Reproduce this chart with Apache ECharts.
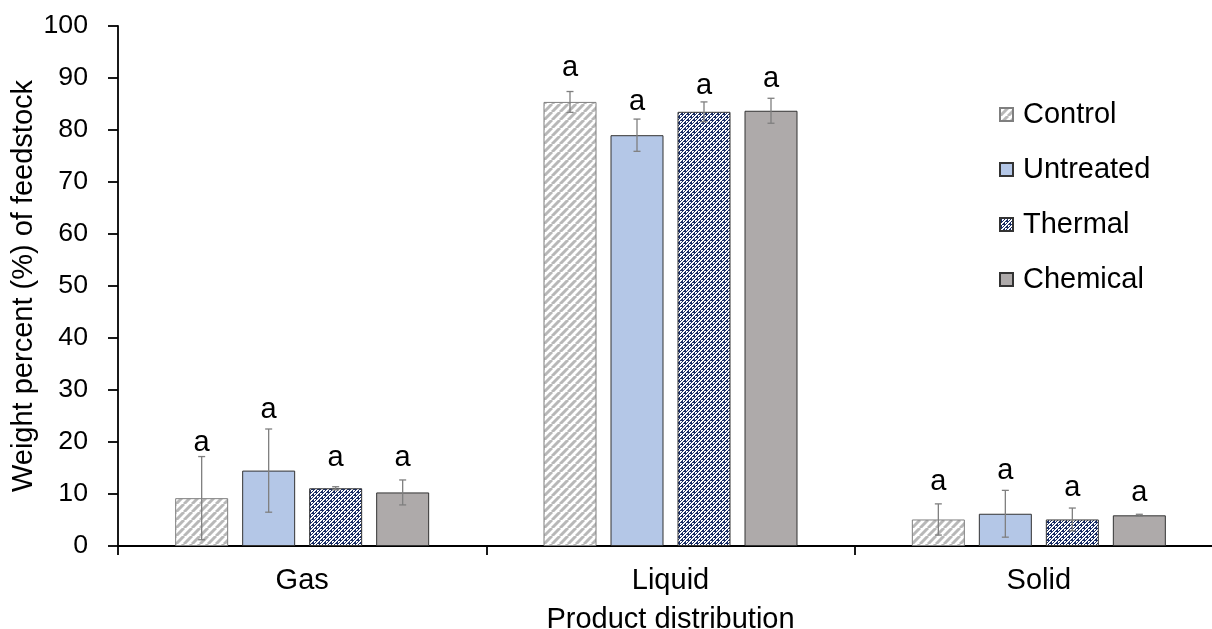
<!DOCTYPE html>
<html>
<head>
<meta charset="utf-8">
<script src="https://cdn.jsdelivr.net/npm/echarts@6/dist/echarts.min.js"></script>
<style>
  html, body { margin: 0; padding: 0; background: #fff; overflow: hidden; }
  #chart { width: 1212px; height: 629px; }
</style>
</head>
<body>
<div id="chart"></div>
<script>
// Product yields, weight percent of feedstock
const categories = ['Gas', 'Liquid', 'Solid'];
const seriesNames = ['Control', 'Untreated', 'Thermal', 'Chemical'];
const control   = [9.2, 85.4, 5.1];
const untreated = [14.5, 79.0, 6.2];
const thermal   = [11.1, 83.5, 5.1];
const chemical  = [10.3, 83.7, 5.9];
// standard deviations
const controlSd   = [8.0, 2.0, 3.0];
const untreatedSd = [8.0, 3.1, 4.5];
const thermalSd   = [0.3, 1.9, 2.2];
const chemicalSd  = [2.4, 2.4, 0.2];
// significance letters
const controlSig   = ['a', 'a', 'a'];
const untreatedSig = ['a', 'a', 'a'];
const thermalSig   = ['a', 'a', 'a'];
const chemicalSig  = ['a', 'a', 'a'];
// baseline height of each letter, in axis units
const controlSigY   = [17.8, 89.9, 10.3];
const untreatedSigY = [24.2, 83.4, 12.4];
const thermalSigY   = [15.0, 86.6, 9.2];
const chemicalSigY  = [14.9, 87.9, 8.3];
const yTicks = [0, 10, 20, 30, 40, 50, 60, 70, 80, 90, 100];

const means = [control, untreated, thermal, chemical];
const sds = [controlSd, untreatedSd, thermalSd, chemicalSd];
const sigs = [controlSig, untreatedSig, thermalSig, chemicalSig];
const sigYs = [controlSigY, untreatedSigY, thermalSigY, chemicalSigY];

const FONT = '"Liberation Sans", Arial, Helvetica, sans-serif';

// Fill patterns
function hatchPattern() {
  const c = document.createElement('canvas');
  c.width = 8; c.height = 8;
  const g = c.getContext('2d');
  g.fillStyle = '#ffffff';
  g.fillRect(0, 0, 8, 8);
  g.strokeStyle = '#b8b8b8';
  g.lineWidth = 3;
  for (let k = -8; k <= 16; k += 8) {
    g.beginPath();
    g.moveTo(k, 8);
    g.lineTo(k + 8, 0);
    g.stroke();
  }
  return c;
}
function checkerPattern() {
  const c = document.createElement('canvas');
  c.width = 6; c.height = 6;
  const g = c.getContext('2d');
  const img = g.createImageData(6, 6);
  for (let y = 0; y < 6; y++) {
    for (let x = 0; x < 6; x++) {
      const d = (x + y) % 6;
      const e = ((x - y) % 6 + 6) % 6;
      const white = (d < 2) || (d >= 3 && d < 5 && e < 3);
      const i = (y * 6 + x) * 4;
      if (white) { img.data[i] = 255; img.data[i + 1] = 255; img.data[i + 2] = 255; }
      else { img.data[i] = 0x1a; img.data[i + 1] = 0x2e; img.data[i + 2] = 0x66; }
      img.data[i + 3] = 255;
    }
  }
  g.putImageData(img, 0, 0);
  return c;
}

const fills = [
  { image: hatchPattern(), repeat: 'repeat' },
  '#b4c7e7',
  { image: checkerPattern(), repeat: 'repeat' },
  '#aeaaaa'
];
const borders = ['#7f7f7f', '#333333', '#333333', '#333333'];

const BAR_W = 53;
const BAR_GAP = 14;
const SIG_SIZE = 29;

const series = [];
seriesNames.forEach((name, s) => {
  series.push({
    name: name,
    type: 'bar',
    data: means[s],
    barWidth: BAR_W,
    barGap: (BAR_GAP / BAR_W * 100) + '%',
    itemStyle: { color: fills[s], borderColor: borders[s], borderWidth: 1 },
    z: 2
  });
});
seriesNames.forEach((name, s) => {
  const offset = (s - 1.5) * (BAR_W + BAR_GAP);
  series.push({
    type: 'custom',
    name: name + ' sd',
    data: categories.map((c, i) => [i, means[s][i], sds[s][i], sigYs[s][i]]),
    z: 5,
    silent: true,
    renderItem: function (params, api) {
      const i = api.value(0);
      const m = api.value(1);
      const sd = api.value(2);
      const top = api.coord([i, m + sd]);
      const bot = api.coord([i, m - sd]);
      const base = api.coord([i, api.value(3)]);
      const x = top[0] + offset;
      const cap = 3.5;
      const st = { stroke: '#7f7f7f', lineWidth: 1.3 };
      return {
        type: 'group',
        children: [
          { type: 'line', shape: { x1: x, y1: top[1], x2: x, y2: bot[1] }, style: st },
          { type: 'line', shape: { x1: x - cap, y1: top[1], x2: x + cap, y2: top[1] }, style: st },
          { type: 'line', shape: { x1: x - cap, y1: bot[1], x2: x + cap, y2: bot[1] }, style: st },
          { type: 'text', x: x, y: base[1] - 0.35 * SIG_SIZE,
            style: { text: sigs[s][i], fill: '#000', font: SIG_SIZE + 'px ' + FONT,
                     align: 'center', verticalAlign: 'middle' } }
        ]
      };
    }
  });
});

const chart = echarts.init(document.getElementById('chart'), null, { renderer: 'canvas' });
chart.setOption({
  animation: false,
  backgroundColor: '#ffffff',
  textStyle: { fontFamily: FONT, color: '#000' },
  grid: { left: 118, top: 26, width: 1105, bottom: 83, containLabel: false, outerBoundsMode: 'none' },
  legend: {
    data: seriesNames,
    orient: 'vertical',
    left: 999,
    top: 100,
    padding: 0,
    itemWidth: 13,
    itemHeight: 13,
    itemGap: 26,
    icon: 'rect',
    textStyle: { fontSize: 29, fontFamily: FONT, color: '#000', padding: [0, 0, 0, 5] }
  },
  xAxis: {
    type: 'category',
    data: categories,
    name: 'Product distribution',
    nameLocation: 'middle',
    nameGap: 59,
    nameTextStyle: { fontSize: 29, color: '#000' },
    axisLine: { lineStyle: { color: '#000', width: 1.8 } },
    axisTick: { show: true, length: 9, lineStyle: { color: '#000', width: 1.8 } },
    axisLabel: { fontSize: 29, color: '#000', margin: 20 },
    splitLine: { show: false }
  },
  yAxis: {
    type: 'value',
    min: yTicks[0],
    max: yTicks[yTicks.length - 1],
    interval: 10,
    name: 'Weight percent (%) of feedstock',
    nameLocation: 'middle',
    nameGap: 80,
    nameMoveOverlap: false,
    nameTextStyle: { fontSize: 29, color: '#000' },
    axisLine: { show: true, lineStyle: { color: '#000', width: 1.8 } },
    axisTick: { show: true, inside: false, length: 10, lineStyle: { color: '#000', width: 1.8 } },
    axisLabel: { fontSize: 26.7, color: '#000', margin: 30 },
    splitLine: { show: false }
  },
  series: series
});
</script>
</body>
</html>
